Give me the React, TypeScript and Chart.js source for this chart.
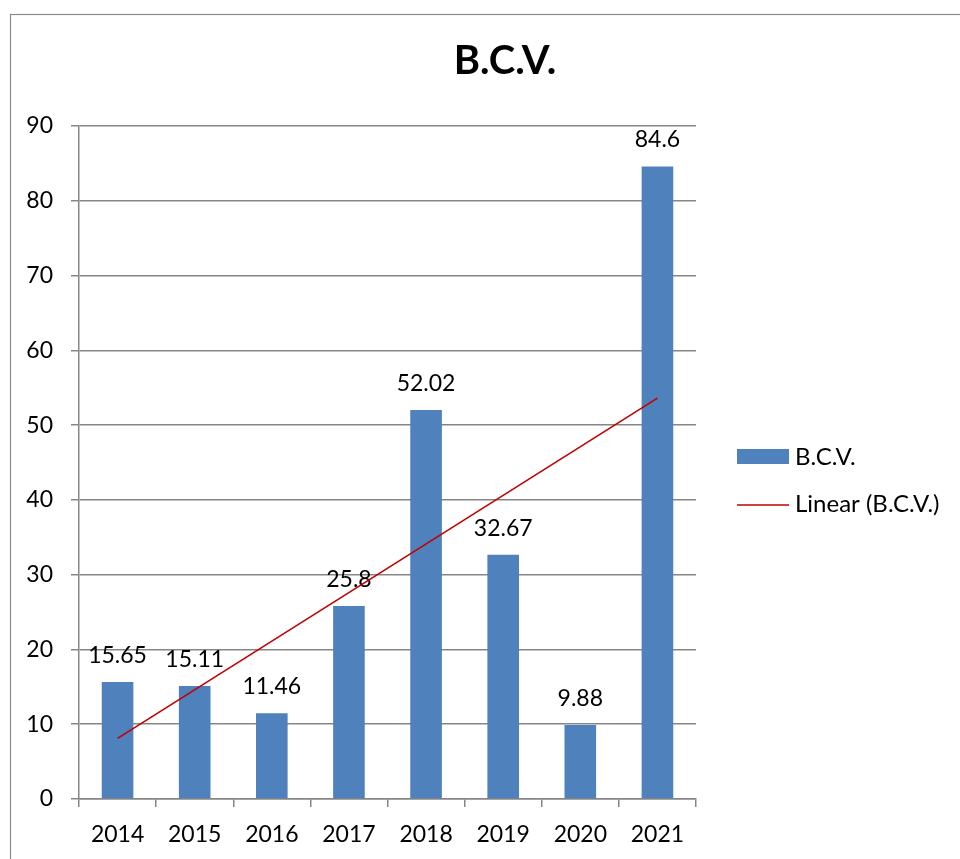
import React, { useEffect, useRef } from "react";
import { Chart, registerables } from "chart.js";

Chart.register(...registerables);

const categories = ["2014", "2015", "2016", "2017", "2018", "2019", "2020", "2021"];
const bcvValues = [15.65, 15.11, 11.46, 25.8, 52.02, 32.67, 9.88, 84.6];
const bcvLabels = ["15.65", "15.11", "11.46", "25.8", "52.02", "32.67", "9.88", "84.6"];
const trendValues: (number | null)[] = [8.1, null, null, null, null, null, null, 53.6];
const yMin = 0;
const yMax = 90;
const yStep = 10;
const titleText = "B.C.V.";
const seriesName = "B.C.V.";
const trendName = "Linear (B.C.V.)";

const BAR_COLOR = "#4F81BD";
const TREND_COLOR = "#C00000";
const GRID_COLOR = "#868686";
const FONT = "Lato, 'Open Sans', sans-serif";

export default function App() {
  const ref = useRef<HTMLCanvasElement | null>(null);

  useEffect(() => {
    if (!ref.current) return;

    const decor = {
      id: "decor",
      beforeDraw(chart: any) {
        const ctx = chart.ctx;
        ctx.save();
        ctx.fillStyle = "#ffffff";
        ctx.fillRect(0, 0, chart.width, chart.height);
        ctx.strokeStyle = "#8a8a8a";
        ctx.lineWidth = 1.2;
        ctx.strokeRect(10.5, 14.5, 2000, 2000);
        ctx.restore();
      },
      afterDatasetDraw(chart: any, args: any) {
        if (args.index !== 0) return;
        const ctx = chart.ctx;
        const meta = chart.getDatasetMeta(0);
        ctx.save();
        ctx.fillStyle = "#000000";
        ctx.font = `23px ${FONT}`;
        ctx.textAlign = "center";
        ctx.textBaseline = "alphabetic";
        meta.data.forEach((el: any, i: number) => {
          ctx.fillText(bcvLabels[i], el.x, el.y - 19);
        });
        ctx.restore();
      },
      afterDraw(chart: any) {
        const ctx = chart.ctx;
        const area = chart.chartArea;
        ctx.save();
        // title
        ctx.fillStyle = "#000000";
        ctx.font = `bold 40px ${FONT}`;
        ctx.textAlign = "center";
        ctx.textBaseline = "alphabetic";
        ctx.fillText(titleText, 505, 74);
        // legend
        const lx = area.right + 41;
        ctx.fillStyle = BAR_COLOR;
        ctx.fillRect(lx, 449, 52, 15);
        ctx.strokeStyle = TREND_COLOR;
        ctx.lineWidth = 1.6;
        ctx.beginPath();
        ctx.moveTo(lx, 505);
        ctx.lineTo(lx + 52, 505);
        ctx.stroke();
        ctx.fillStyle = "#000000";
        ctx.font = `24px ${FONT}`;
        ctx.textAlign = "left";
        ctx.fillText(seriesName, lx + 58, 465);
        ctx.fillText(trendName, lx + 58, 512);
        ctx.restore();
      },
    };

    const chart = new Chart(ref.current, {
      type: "bar",
      data: {
        labels: categories,
        datasets: [
          {
            type: "bar",
            label: seriesName,
            data: bcvValues,
            backgroundColor: BAR_COLOR,
            borderWidth: 0,
            barPercentage: 0.41,
            categoryPercentage: 1,
            order: 1,
          },
          {
            type: "line",
            label: trendName,
            data: trendValues,
            borderColor: TREND_COLOR,
            borderWidth: 1.6,
            pointRadius: 0,
            spanGaps: true,
            fill: false,
            order: 0,
          } as any,
        ],
      },
      options: {
        responsive: true,
        maintainAspectRatio: false,
        animation: false,
        layout: { padding: { left: 10, top: 126, right: 264, bottom: 0 } },
        plugins: {
          legend: { display: false },
          title: { display: false },
          tooltip: { enabled: false },
        },
        scales: {
          x: {
            offset: true,
            grid: {
              display: true,
              offset: true,
              drawOnChartArea: false,
              drawTicks: true,
              tickLength: 8,
              color: GRID_COLOR,
              lineWidth: 1.5,
            },
            border: { display: true, color: GRID_COLOR, width: 1.5 },
            ticks: {
              color: "#000000",
              font: { family: FONT, size: 23 },
              padding: 14,
              maxRotation: 0,
              autoSkip: false,
            },
            afterFit(scale: any) {
              scale.height = 60;
            },
          },
          y: {
            min: yMin,
            max: yMax,
            grid: {
              color: GRID_COLOR,
              lineWidth: 1.5,
              drawTicks: true,
              tickLength: 8,
            },
            border: { display: true, color: GRID_COLOR, width: 1.5 },
            ticks: {
              stepSize: yStep,
              color: "#000000",
              font: { family: FONT, size: 23 },
              padding: 18,
            },
            afterFit(scale: any) {
              scale.width = 69;
            },
          },
        },
      },
      plugins: [decor],
    });

    return () => chart.destroy();
  }, []);

  return (
    <div style={{ position: "fixed", left: 0, top: 0, width: 960, height: 859, overflow: "hidden", background: "#fff" }}>
      <canvas ref={ref} />
    </div>
  );
}
